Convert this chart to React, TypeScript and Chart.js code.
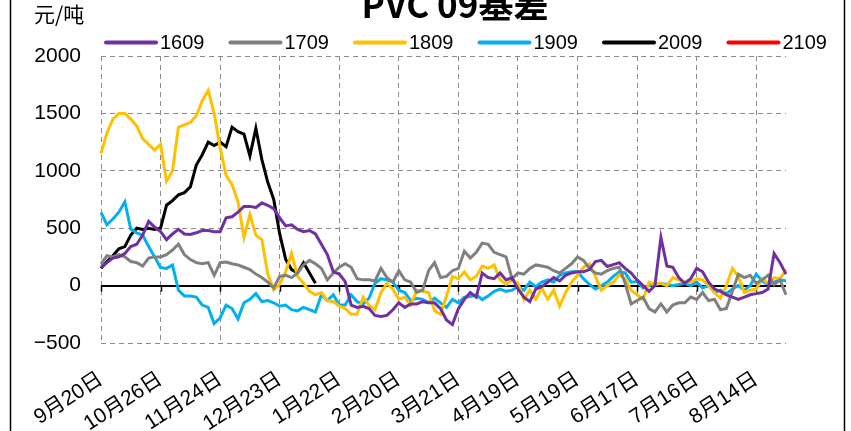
import React, { useEffect, useRef } from "react";
import { Chart, registerables } from "chart.js";

Chart.register(...registerables);

const tickLabels = ["9月20日", "10月26日", "11月24日", "12月23日", "1月22日", "2月20日", "3月21日", "4月19日", "5月19日", "6月17日", "7月16日", "8月14日"];
const TICK_EVERY = 10;
const POINT_COUNT = 116;

const s1609 = [160, 200, 240, 250, 280, 340, 360, 440, 560, 510, 470, 400, 450, 490, 450, 445, 460, 480, 480, 470, 470, 590, 600, 640, 690, 690, 680, 720, 700, 670, 590, 520, 530, 490, 470, 480, 450, 360, 270, 120, 100, 35, -170, -190, -180, -200, -260, -270, -260, -210, -150, -190, -160, -160, -140, -150, -150, -200, -300, -340, -200, -120, -60, -100, 110, 70, 60, 110, 50, 70, -30, -100, -140, -30, -10, 30, 70, 40, 90, 110, 120, 120, 140, 210, 220, 166, 183, 200, 150, 110, 50, 0, -50, 0, 420, 170, 160, 70, 20, 60, 150, 120, 30, -30, -50, -80, -100, -120, -100, -80, -70, -60, -30, 280, 200, 100];
const s1709 = [190, 260, 250, 270, 250, 210, 200, 170, 240, 250, 250, 270, 310, 360, 270, 227, 200, 190, 200, 90, 200, 205, 190, 180, 160, 140, 100, 70, 30, -20, 80, 90, 70, 110, 180, 220, 190, 150, 50, 110, 160, 190, 160, 60, 50, 50, 40, 150, 70, 30, 130, 50, 30, -60, -40, 130, 200, 70, 80, 130, 150, 300, 240, 290, 370, 360, 290, 270, 250, 60, 110, 100, 150, 180, 170, 160, 130, 110, 150, 190, 250, 220, 150, 110, 100, 130, 150, 160, 20, -160, -130, -100, -200, -230, -160, -230, -170, -150, -150, -100, -120, -60, -130, -120, -210, -200, -50, 100, 70, 90, 20, 50, 90, 10, 50, -80];
const s1809 = [1150, 1330, 1450, 1500, 1500, 1450, 1390, 1280, 1230, 1180, 1230, 910, 1000, 1380, 1400, 1420, 1480, 1610, 1700, 1500, 1200, 960, 880, 730, 420, 620, 440, 400, 100, -40, 10, 120, 280, 80, 20, -50, -80, -60, -130, -140, -180, -200, -250, -250, -100, -170, -210, -60, 20, -30, -120, -100, -170, -40, -50, -60, -220, -250, -90, 80, 60, 120, 50, 80, 170, 150, 180, 50, 10, 50, 20, -120, -40, -120, -20, -120, -40, -180, -60, 30, 90, 160, 190, 80, -40, 0, 30, 90, 60, -40, -80, -120, 30, 10, 20, 0, 70, 50, 30, 30, 60, 50, 0, -60, -110, 0, 150, 80, -60, -40, -30, 60, 20, 70, 60, 140];
const s1909 = [637, 530, 580, 640, 730, 490, 460, 440, 340, 250, 157, 150, 180, -40, -90, -90, -100, -170, -190, -330, -280, -170, -200, -290, -150, -120, -70, -140, -130, -150, -180, -170, -210, -220, -190, -210, -230, -80, -130, -80, -170, -170, -80, -140, -160, -110, 20, 60, 50, 30, -40, -60, -130, -110, -120, -150, -110, -150, -190, -120, -150, -100, -96, -80, -122, -90, -50, -30, -50, -40, -10, -40, 30, -10, 30, 50, 30, 90, 110, 120, 120, 60, 10, -30, 0, 30, 80, 120, 110, 30, 35, -20, 0, 10, 20, 10, 0, 10, 20, 0, 30, -20, 0, -60, -40, -70, -30, 0, -40, 0, 100, 40, 10, 30, 50, 40];
const s2009 = [150, 210, 260, 320, 340, 440, 500, 490, 500, 490, 500, 700, 740, 790, 810, 860, 1050, 1140, 1250, 1220, 1250, 1210, 1380, 1340, 1320, 1130, 1370, 1100, 900, 750, 450, 230, 140, 110, 200, 110, 20];
const s2109: number[] = [];

const seriesNames = ["1609", "1709", "1809", "1909", "2009", "2109"];
const seriesColors = ["#7030A0", "#808080", "#FFC000", "#00B0F0", "#000000", "#FF0000"];
const seriesData = [s1609, s1709, s1809, s1909, s2009, s2109];

const yMin = -500;
const yMax = 2000;
const yStep = 500;

const titleText = "PVC 09基差";
const unitText = "元/吨";

const FONT = "'Liberation Sans', Arial, 'Noto Sans CJK SC', sans-serif";
const GRID = "#8c8c8c";

const decorPlugin = {
  id: "decor",
  beforeDatasetsDraw(chart: any) {
    const { ctx } = chart;
    const x = chart.scales.x;
    const y = chart.scales.y;
    const y0 = y.getPixelForValue(0);
    ctx.save();
    ctx.strokeStyle = "#000";
    ctx.lineWidth = 1.5;
    for (let k = 0; k < tickLabels.length; k++) {
      const px = Math.round(x.getPixelForValue(k * TICK_EVERY)) + 0.5;
      ctx.beginPath();
      ctx.moveTo(px, y0);
      ctx.lineTo(px, y0 + 6);
      ctx.stroke();
    }
    ctx.restore();
  },
  afterDraw(chart: any) {
    const { ctx, width, height } = chart;
    ctx.save();
    // frame
    ctx.strokeStyle = "#000";
    ctx.lineWidth = 1.5;
    ctx.beginPath();
    ctx.moveTo(10.5, 0);
    ctx.lineTo(10.5, height);
    ctx.moveTo(width - 6.5, 0);
    ctx.lineTo(width - 6.5, height);
    ctx.stroke();
    // title
    ctx.fillStyle = "#000";
    ctx.font = "bold 35px 'Noto Sans CJK SC', sans-serif";
    ctx.textAlign = "center";
    ctx.textBaseline = "alphabetic";
    ctx.fillText(titleText, 455, 18);
    // unit
    ctx.font = "21px 'Noto Sans CJK SC', sans-serif";
    ctx.textAlign = "left";
    ctx.textBaseline = "middle";
    ctx.fillText(unitText, 34, 14);
    // legend
    ctx.font = "20px " + FONT;
    let lx = 104;
    const ly = 42.5;
    chart.data.datasets.forEach((ds: any) => {
      ctx.strokeStyle = ds.borderColor;
      ctx.lineWidth = 4;
      ctx.lineCap = "round";
      ctx.beginPath();
      ctx.moveTo(lx + 2, ly);
      ctx.lineTo(lx + 52, ly);
      ctx.stroke();
      ctx.fillStyle = "#000";
      ctx.textAlign = "left";
      ctx.textBaseline = "middle";
      ctx.fillText(ds.label, lx + 56, ly + 1);
      const w = ctx.measureText(ds.label).width;
      lx += 56 + w + 24;
    });
    ctx.restore();
  },
};

export default function App() {
  const ref = useRef<HTMLCanvasElement | null>(null);
  useEffect(() => {
    document.body.style.margin = "0";
    const labels = Array.from({ length: POINT_COUNT }, (_, i) => String(i));
    const chart = new Chart(ref.current as HTMLCanvasElement, {
      type: "line",
      data: {
        labels,
        datasets: seriesNames.map((name, k) => ({
          label: name,
          data: seriesData[k],
          borderColor: seriesColors[k],
          backgroundColor: seriesColors[k],
          borderWidth: 3,
          pointRadius: 0,
          tension: 0,
          fill: false,
        })),
      },
      options: {
        animation: false,
        responsive: true,
        maintainAspectRatio: false,
        layout: { padding: { top: 56, right: 65, left: 0, bottom: 0 } },
        plugins: {
          legend: { display: false },
          title: { display: false },
          tooltip: { enabled: false },
        },
        scales: {
          x: {
            type: "category",
            offset: false,
            afterFit: (s: any) => {
              s.height = 88;
            },
            grid: {
              color: GRID,
              lineWidth: 1,
              drawTicks: false,
              tickLength: 0,
            },
            border: { display: false, dash: [5, 4] },
            ticks: {
              autoSkip: false,
              maxRotation: 33,
              minRotation: 33,
              padding: 24,
              color: "#000",
              font: { family: FONT, size: 21 },
              callback: (_v: any, i: number) => (i % TICK_EVERY === 0 ? tickLabels[i / TICK_EVERY] : null),
            },
          },
          y: {
            min: yMin,
            max: yMax,
            afterFit: (s: any) => {
              s.width = 101;
            },
            grid: {
              color: (c: any) => (c.tick && c.tick.value === 0 ? "#000" : GRID),
              lineWidth: (c: any) => (c.tick && c.tick.value === 0 ? 2 : 1),
              drawTicks: false,
              tickLength: 0,
            },
            border: {
              display: false,
              dash: (c: any) => (c.tick && c.tick.value === 0 ? [] : [5, 4]),
            },
            ticks: {
              stepSize: yStep,
              padding: 20,
              color: "#000",
              font: { family: FONT, size: 21 },
              callback: (v: any) => (v < 0 ? "\u2212" + Math.abs(v) : String(v)),
            },
          },
        },
      },
      plugins: [decorPlugin],
    });
    return () => chart.destroy();
  }, []);
  return (
    <div style={{ position: "absolute", left: 0, top: 0, width: 851, height: 431 }}>
      <canvas ref={ref} />
    </div>
  );
}
